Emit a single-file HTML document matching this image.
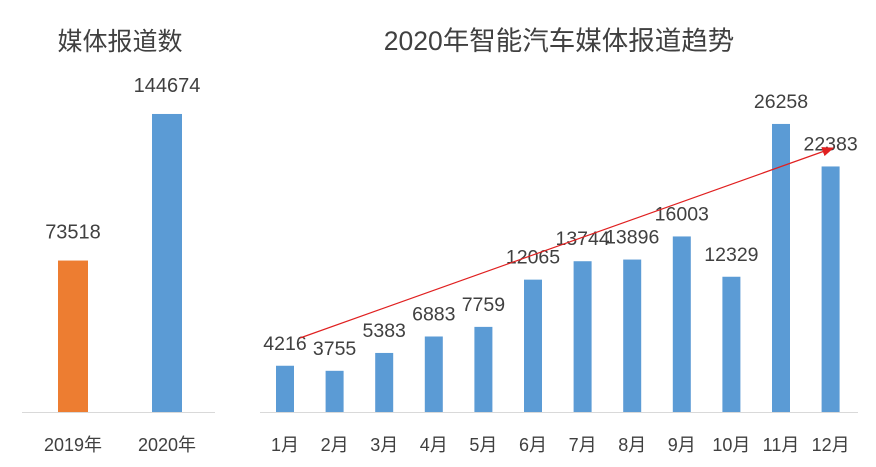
<!DOCTYPE html>
<html><head><meta charset="utf-8"><style>
body{margin:0;background:#fff;}
svg{display:block;font-family:"Liberation Sans","Noto Sans CJK SC",sans-serif;}
</style></head><body>
<svg id="c" width="876" height="467">
<defs><marker id="ah" markerWidth="10" markerHeight="8" refX="9" refY="4" orient="auto"><path d="M0,0 L10,4 L0,8 z" fill="#e02020"/></marker></defs>
<text x="120" y="50" text-anchor="middle" font-size="25" fill="#404040">媒体报道数</text>
<text x="559" y="50" text-anchor="middle" font-size="26.5" fill="#404040">2020年智能汽车媒体报道趋势</text>
<line x1="22" y1="412.5" x2="215" y2="412.5" stroke="#d9d9d9"/>
<line x1="260" y1="412.5" x2="858" y2="412.5" stroke="#d9d9d9"/>
</svg>
<script>
const yearCats=["2019年","2020年"];
const yearVals=[73518,144674];
const monthCats=["1月","2月","3月","4月","5月","6月","7月","8月","9月","10月","11月","12月"];
const monthVals=[4216,3755,5383,6883,7759,12065,13744,13896,16003,12329,26258,22383];
const svg=document.getElementById('c');
const NS="http://www.w3.org/2000/svg";
function mk(t,a){const e=document.createElementNS(NS,t);for(const k in a)e.setAttribute(k,a[k]);svg.appendChild(e);return e;}
const base=412;
const yL=v=>base-v*0.00206;
const xL=i=>73+i*94;
yearCats.forEach((c,i)=>{
 const b=mk('rect',{x:xL(i)-15,y:yL(yearVals[i]),width:30,height:base-yL(yearVals[i]),fill:i===0?'#ed7d31':'#5b9bd5'});
 
 
 const t=mk('text',{x:xL(i),y:yL(yearVals[i])-22,'text-anchor':'middle','font-size':20,fill:'#404040'});t.textContent=yearVals[i];
 
 
 const l=mk('text',{x:xL(i),y:451,'text-anchor':'middle','font-size':18,fill:'#404040'});l.textContent=c;
 
 
});
const yR=v=>base-v*0.01097;
const xR=i=>285+i*49.6;
monthCats.forEach((c,i)=>{
 const b=mk('rect',{x:xR(i)-9,y:yR(monthVals[i]),width:18,height:base-yR(monthVals[i]),fill:'#5b9bd5'});
 
 
 const t=mk('text',{x:xR(i),y:yR(monthVals[i])-16,'text-anchor':'middle','font-size':19.5,fill:'#404040'});t.textContent=monthVals[i];
 
 
 const l=mk('text',{x:xR(i),y:451,'text-anchor':'middle','font-size':18,fill:'#404040'});l.textContent=c;
 
 
});
const a=mk('line',{x1:300,y1:338,x2:833,y2:148,stroke:'#e02020','stroke-width':1.2,'marker-end':'url(#ah)'});


</script>
</body></html>
